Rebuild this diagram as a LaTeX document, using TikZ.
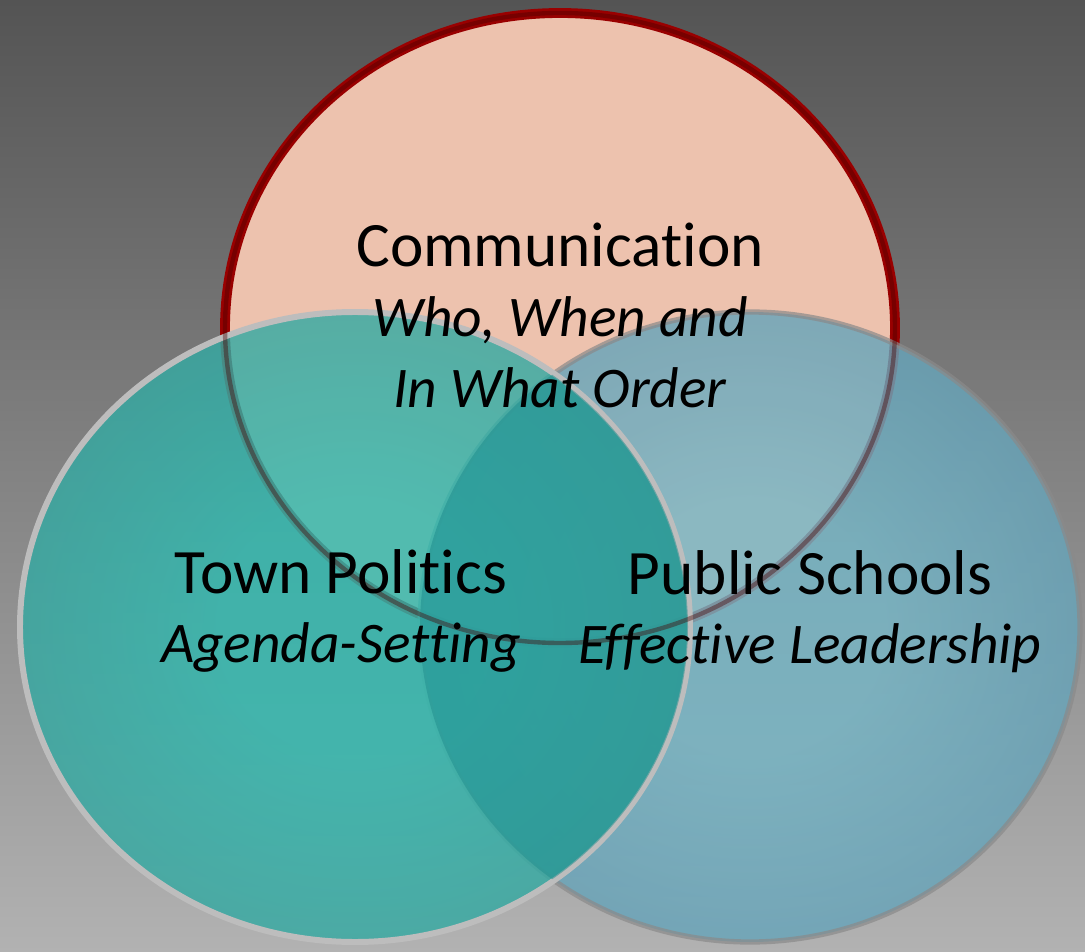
\documentclass[tikz,border=0pt]{standalone}
\usepackage{fontspec}
\setmainfont{Carlito}[Ligatures=NoCommon]
\usepackage{xcolor}
\usepackage{tikz}
\usetikzlibrary{positioning}

\definecolor{bgtop}{HTML}{545454}
\definecolor{bgmid}{HTML}{9C9C9C}
\definecolor{bgbot}{HTML}{B2B2B2}
\definecolor{peach}{HTML}{EDC2AE}
\definecolor{commred}{HTML}{990000}
\definecolor{tealin}{HTML}{30BAB0}
\definecolor{tealout}{HTML}{3E8C8A}
\definecolor{bluein}{HTML}{76B6C6}
\definecolor{blueout}{HTML}{4E84A2}
\definecolor{rimlight}{HTML}{BDBDBD}
\definecolor{rimdark}{HTML}{8A8A8A}
\definecolor{overlap}{HTML}{25908F}

\pgfdeclareradialshading{tealglow}{\pgfpoint{0bp}{0bp}}{color(0bp)=(tealin); color(10bp)=(tealin); color(50bp)=(tealout)}
\pgfdeclareradialshading{blueglow}{\pgfpoint{0bp}{0bp}}{color(0bp)=(bluein); color(10bp)=(bluein); color(50bp)=(blueout)}

\begin{document}
\begin{tikzpicture}[
    x=0.02cm, y=-0.02cm,
    title/.style={font=\fontsize{36}{40}\selectfont, inner sep=0pt, anchor=base},
    sub/.style={font=\fontsize{32.7}{38}\selectfont\itshape, inner sep=0pt, anchor=base},
    setcomm/.style={fill=peach, draw=commred, line width=5.6pt},
    settown/.style={shading=tealglow, fill opacity=0.82, draw=rimlight, line width=3.4pt},
    setschool/.style={shading=blueglow, fill opacity=0.82, draw=rimdark, draw opacity=0.7, line width=3pt}
]
    % background
    \shade[top color=bgtop, middle color=bgmid, bottom color=bgbot] (0,0) rectangle (1085,952);
    \useasboundingbox (0,0) rectangle (1085,952);

    % the three sets
    \draw[setcomm] (560,328) ellipse [x radius=335, y radius=315];
    \shadedraw[setschool] (750,627) ellipse [x radius=330, y radius=315];
    \shadedraw[settown] (355,627) ellipse [x radius=335, y radius=315];

    % darker where town and schools meet
    \begin{scope}
        \clip (355,627) ellipse [x radius=333, y radius=313];
        \fill[overlap, fill opacity=0.55] (750,627) ellipse [x radius=330, y radius=315];
    \end{scope}
    \draw[commred!45!black, draw opacity=0.4, line width=2.5pt] (560,328) ellipse [x radius=335, y radius=315];

    % labels
    \node[title] (comm) at (560,267) {Communication};
    \node[sub, below=39.8pt of comm.base, anchor=base] (who) {Who, When and};
    \node[sub, below=40.4pt of who.base, anchor=base] (order) {In What Order};

    \node[title] (town) at (341,593) {Town Politics};
    \node[sub, below=39.3pt of town.base, anchor=base] (agenda) {Agenda-Setting};

    \node[title] (school) at (810,594) {Public Schools};
    \node[sub, below=39.3pt of school.base, anchor=base] (lead) {Effective Leadership};
\end{tikzpicture}
\end{document}
